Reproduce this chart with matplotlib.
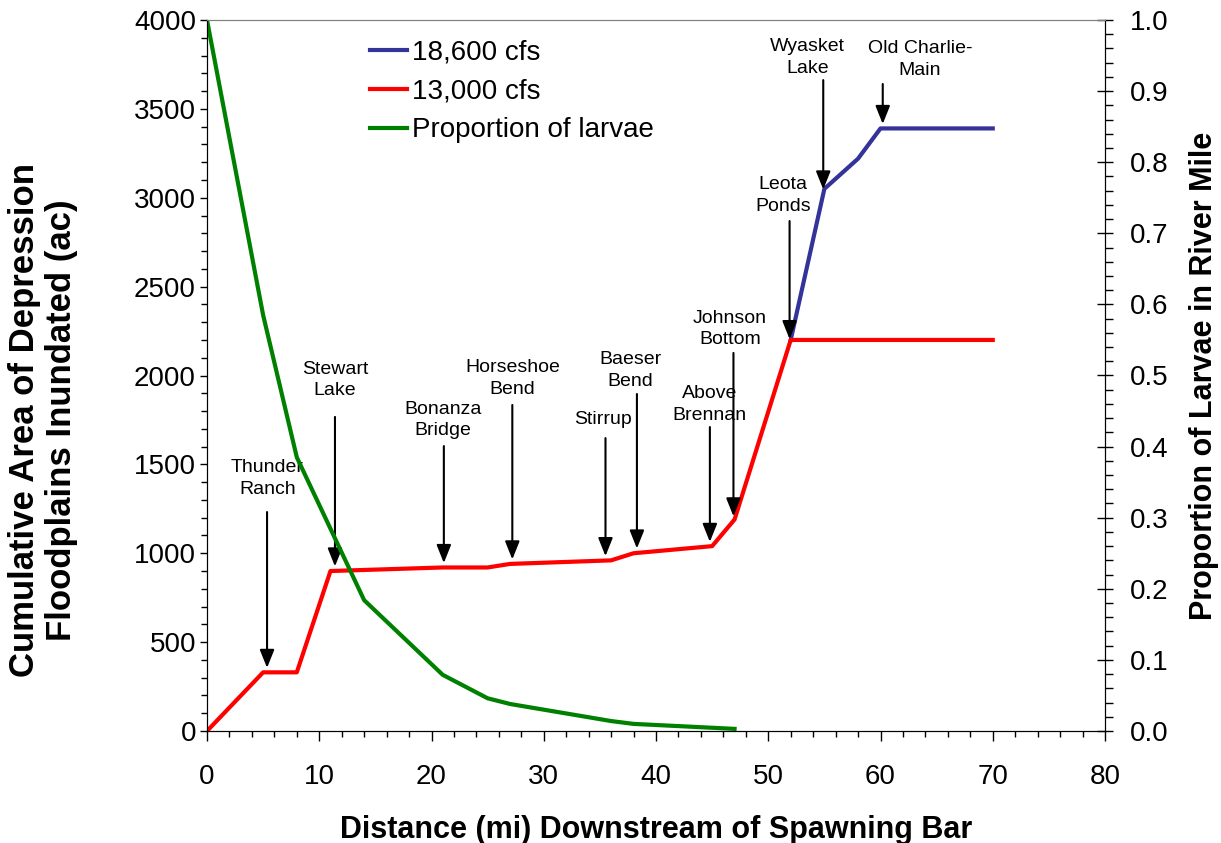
import numpy as np
import matplotlib
matplotlib.use('Agg')
import matplotlib.pyplot as plt
from matplotlib.ticker import MultipleLocator, FormatStrFormatter

plt.rcParams['font.family'] = ['Liberation Sans', 'DejaVu Sans']

# Дані: площа затоплених заплав (ac) за відстанню (mi)
dist_13000 = [0, 5, 8, 11, 21, 25, 27, 36, 38, 45, 47, 52, 70]
area_13000 = [0, 330, 330, 900, 920, 920, 940, 960, 1000, 1040, 1190, 2200, 2200]
dist_18600 = [52, 55, 58, 60, 70]
area_18600 = [2200, 3050, 3220, 3390, 3390]
# частка личинок
dist_larvae = [0, 5, 8, 14, 21, 25, 27, 36, 38, 47]
prop_larvae = [1.0, 0.585, 0.385, 0.184, 0.079, 0.046, 0.038, 0.014, 0.010, 0.003]

# Місця (назва, миля, на якій лінії стрілка)
site_names = ['Thunder\nRanch', 'Stewart\nLake', 'Bonanza\nBridge', 'Horseshoe\nBend', 'Stirrup',
	'Baeser\nBend', 'Above\nBrennan', 'Johnson\nBottom', 'Leota\nPonds', 'Wyasket\nLake', 'Old Charlie-\nMain']
site_mi = [5.35, 11.4, 21.1, 27.2, 35.5, 38.3, 44.8, 46.9, 51.9, 54.9, 60.2]
site_series = ['13000'] * 9 + ['18600'] * 2
# розташування підписів: x тексту, центр тексту (ac), початок стрілки (ac)
label_x = [5.4, 11.4, 21.0, 27.2, 35.3, 37.7, 44.8, 46.6, 51.3, 53.5, 63.5]
label_y = [1420, 1975, 1750, 1983, 1750, 2028, 1837, 2262, 3013, 3789, 3778]
arrow_top = [1232, 1767, 1603, 1834, 1648, 1896, 1710, 2127, 2869, 3662, 3640]

fig = plt.figure(figsize=(12.21, 8.43), dpi=100)
ax = fig.add_axes([207/1221, 1 - 731/843, 898/1221, 711/843])
ax2 = ax.twinx()

l1, = ax.plot(dist_18600, area_18600, color='#333399', lw=3, zorder=3)
l2, = ax.plot(dist_13000, area_13000, color='#ff0000', lw=3, zorder=4)
l3, = ax2.plot(dist_larvae, prop_larvae, color='#008000', lw=3)

# стрілки з назвами
for name, mi, ser, lx, ly, top in zip(site_names, site_mi, site_series, label_x, label_y, arrow_top):
	if ser == '13000':
		tip = np.interp(mi, dist_13000, area_13000) + 25
	else:
		tip = np.interp(mi, dist_18600, area_18600) + 25
	ax.annotate('', xy=(mi, tip), xytext=(mi, top),
		arrowprops=dict(arrowstyle='-|>,head_length=0.55,head_width=0.22', color='k', lw=1.5,
			mutation_scale=20, shrinkA=0, shrinkB=0), zorder=5)
	ax.text(lx, ly, name, ha='center', va='center', fontsize=14, linespacing=1.35, zorder=5)

ax.set_xlim(0, 80)
ax.set_ylim(0, 4000)
ax2.set_ylim(0, 1)
ax.xaxis.set_major_locator(MultipleLocator(10))
ax.xaxis.set_minor_locator(MultipleLocator(2))
ax.yaxis.set_major_locator(MultipleLocator(500))
ax.yaxis.set_minor_locator(MultipleLocator(100))
ax2.yaxis.set_major_locator(MultipleLocator(0.1))
ax2.yaxis.set_minor_locator(MultipleLocator(0.02))
ax2.yaxis.set_major_formatter(FormatStrFormatter('%.1f'))

ax.tick_params(axis='x', which='major', direction='out', length=7, width=1, labelsize=20, pad=17)
ax.tick_params(axis='x', which='minor', direction='out', length=4.5, width=1)
ax.tick_params(axis='y', which='major', direction='out', length=5, width=1, labelsize=20, pad=3)
ax.tick_params(axis='y', which='minor', direction='out', length=4.5, width=1)
ax2.tick_params(axis='y', which='major', direction='inout', length=12, width=1, labelsize=20, pad=12)
ax2.tick_params(axis='y', which='minor', direction='out', length=5.5, width=1)

for a in (ax, ax2):
	a.spines['top'].set_color('#808080')

ax.set_xlabel('Distance (mi) Downstream of Spawning Bar', fontsize=22, fontweight='bold')
ax.xaxis.set_label_coords(0.5, -0.139)
ax.xaxis.label.set_va('center')
ax.set_ylabel('Cumulative Area of Depression\nFloodplains Inundated (ac)', fontsize=25,
	fontweight='bold', va='center', linespacing=1.12)
ax.yaxis.set_label_coords(-0.1826, 0.4374)
ax2.set_ylabel('Proportion of Larvae in River Mile', fontsize=22, fontweight='bold',
	rotation=90, va='center')
ax2.yaxis.set_label_coords(1.110, 0.4993)

ax.legend([l1, l2, l3], ['18,600 cfs', '13,000 cfs', 'Proportion of larvae'], loc='upper left',
	bbox_to_anchor=(0.1815, 0.972), frameon=False, fontsize=20, handlelength=1.33,
	handletextpad=0.2, labelspacing=0.46, borderpad=0, borderaxespad=0)

fig.savefig('out.png', dpi=100)
